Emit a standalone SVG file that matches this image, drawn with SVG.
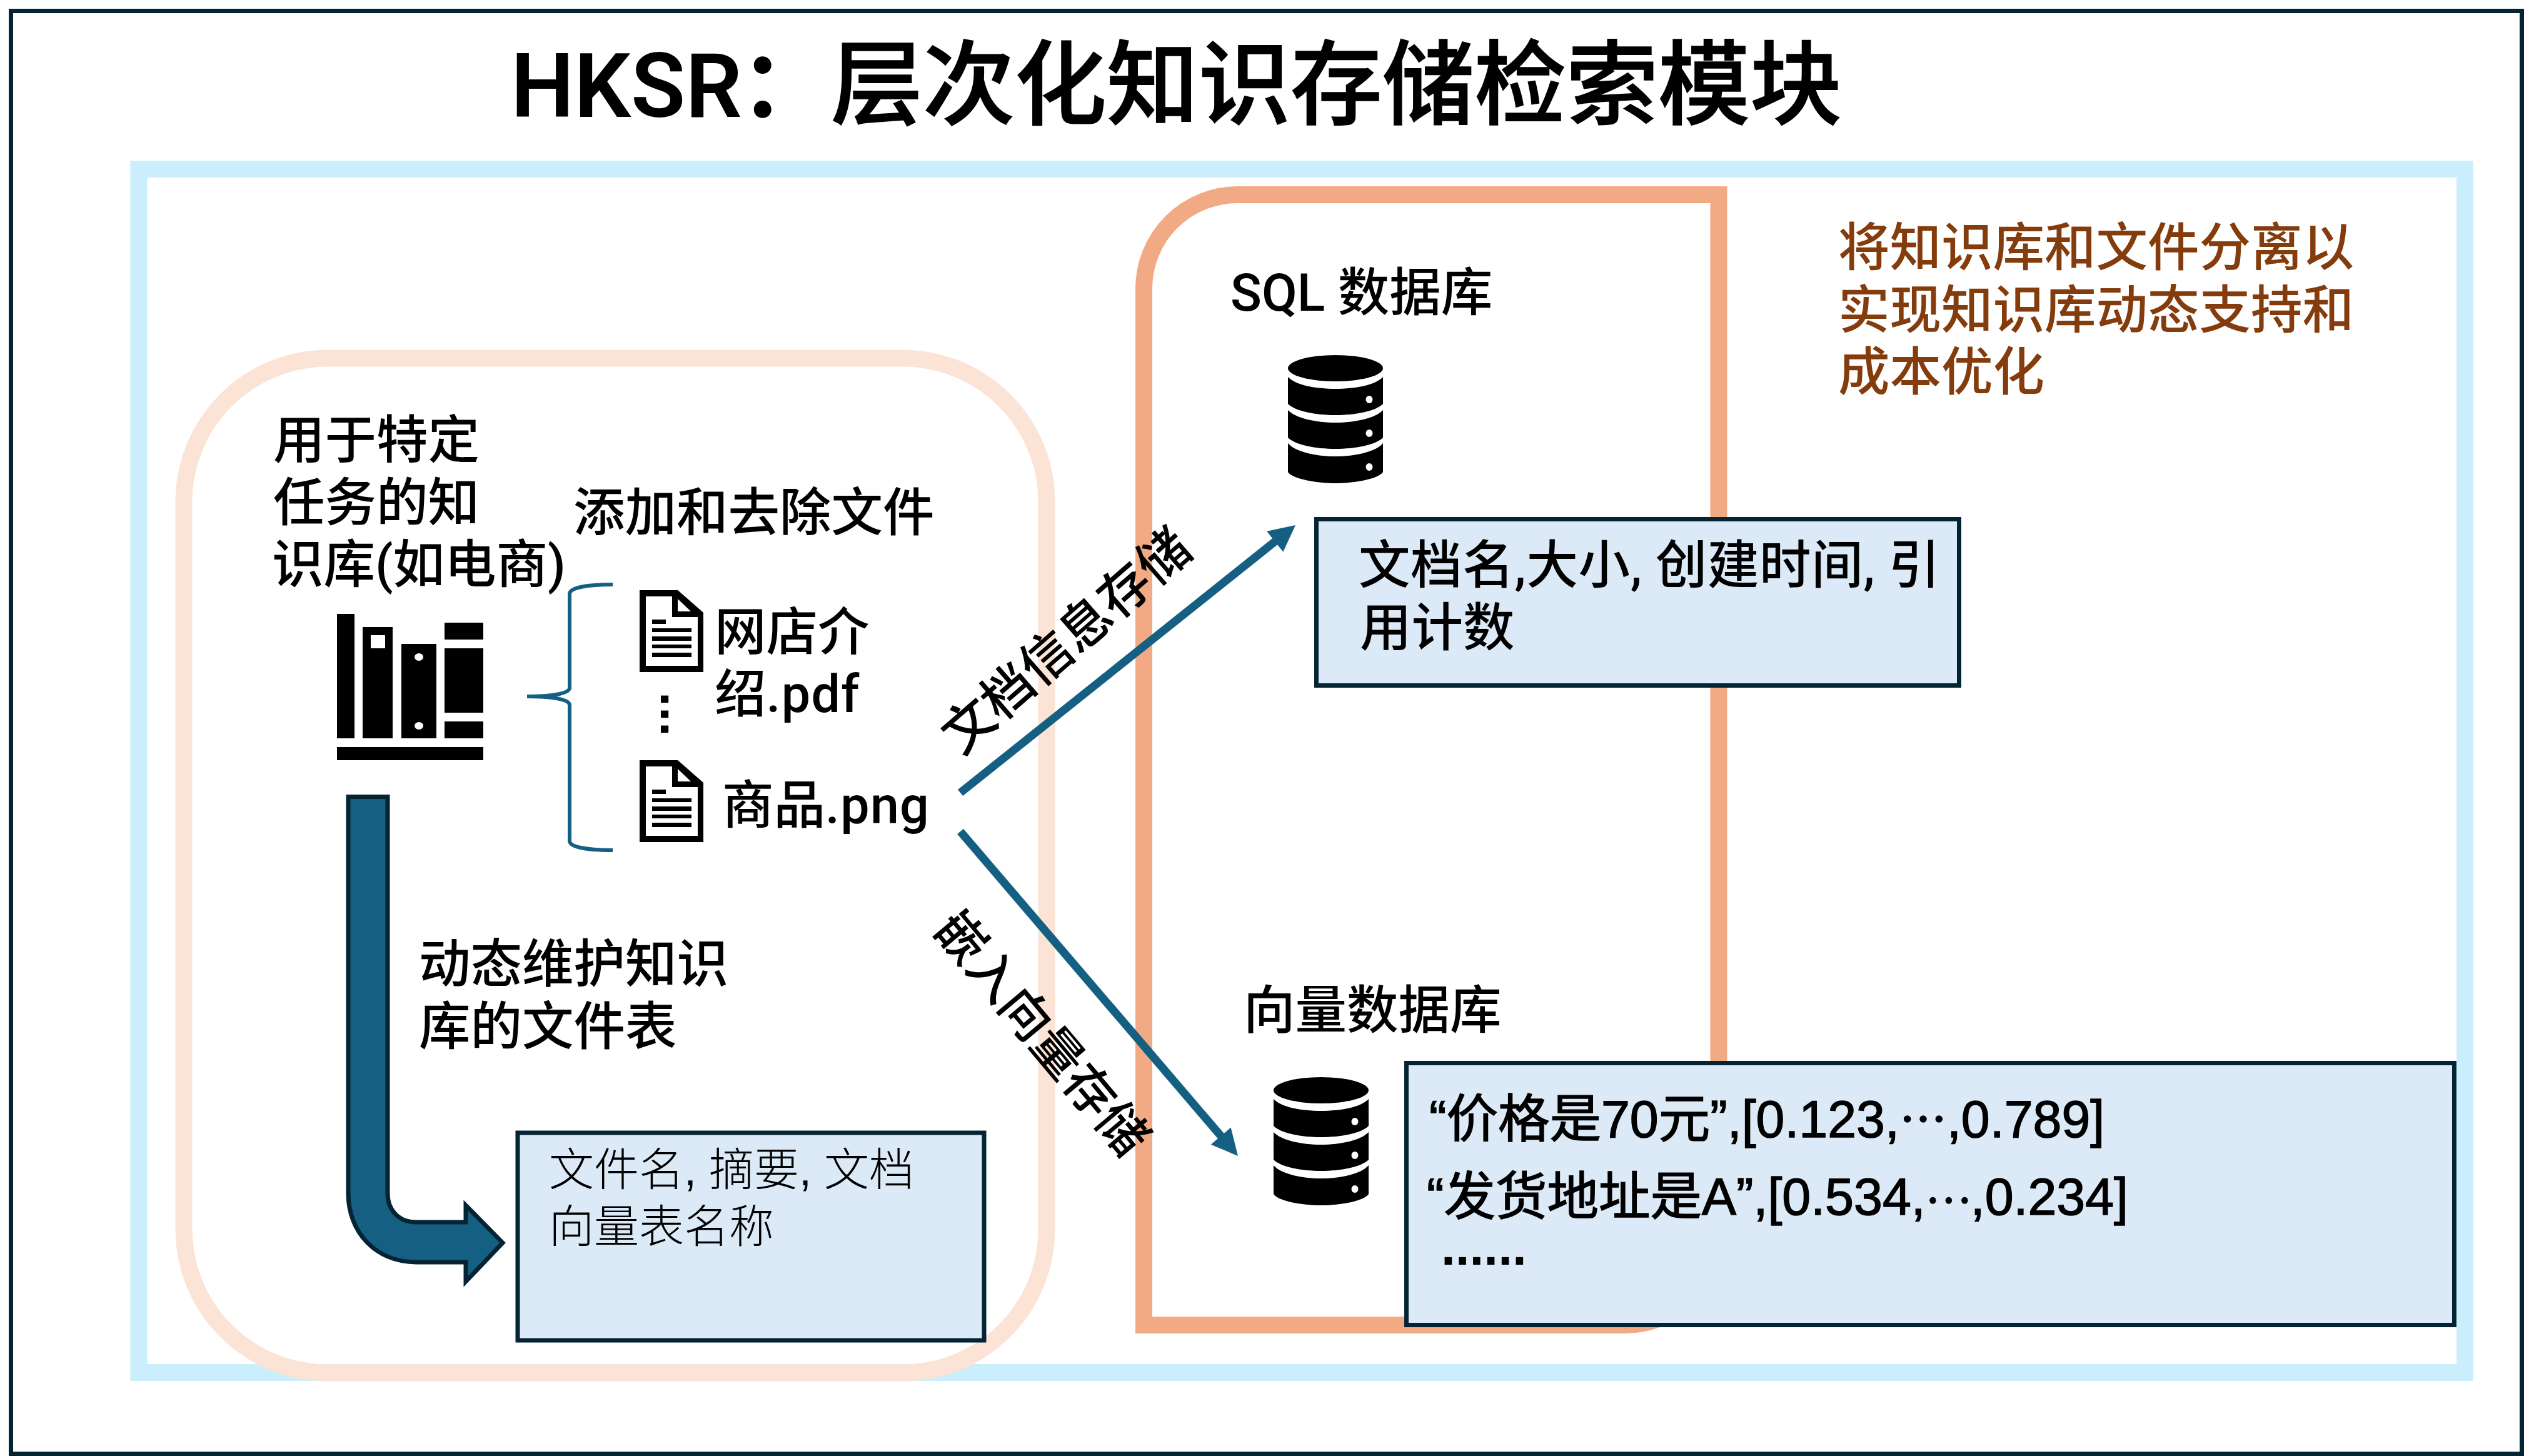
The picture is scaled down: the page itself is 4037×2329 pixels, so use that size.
<svg xmlns="http://www.w3.org/2000/svg" width="4037" height="2329" viewBox="0 0 4037 2329">
<style>
text{font-family:"Roboto","Noto Sans CJK SC",sans-serif;font-size:82.500px;font-weight:500;fill:#000}
.box{fill:#DCEAF7;stroke:#042433;stroke-width:7}
.conn{fill:none;stroke:#156082;stroke-width:13}
.tb{font-family:"Liberation Sans","Noto Sans CJK SC",sans-serif;font-weight:400;stroke:#000;stroke-width:1.500px}
.dots{font-family:"Liberation Sans",sans-serif;font-weight:700}
.mid{font-family:"Noto Sans CJK SC",sans-serif;font-size:76px}
.lt{font-family:"Liberation Sans","Noto Sans CJK SC",sans-serif;font-size:72px;font-weight:300}
.sp{letter-spacing:1.300px}
.note{fill:#843C0C}
</style>
<defs>
<marker id="ah" markerUnits="userSpaceOnUse" markerWidth="60" markerHeight="60" viewBox="-5 -30 60 60" refX="2" refY="0" orient="auto"><path d="M42,0 L0,-21 L0,21 Z" fill="#156082"/></marker>
<g id="doc">
<path d="M1023,944 H1084 L1125,980 V1075 H1023 Z M1033,954 V1065 H1116 V987 H1075 V954 Z" fill="#000" fill-rule="evenodd"/>
<path d="M1084,958 L1105,978 H1084 Z" fill="#fff"/>
<path d="M1043,991 h22 v7 h-22 Z M1043,1005 h63 v6 h-63 Z M1043,1018 h63 v7 h-63 Z M1043,1031 h63 v6 h-63 Z M1043,1044 h63 v7 h-63 Z" fill="#000"/>
</g>
<g id="db">
<ellipse cx="2136" cy="589" rx="76" ry="21" fill="#000"/>
<path d="M2060,603 C2072,616 2105,622 2136,622 C2167,622 2200,616 2212,603 V646 C2200,658 2167,664 2136,664 C2105,664 2072,658 2060,646 Z" fill="#000"/>
<path d="M2060,656 C2072,669 2105,676 2136,676 C2167,676 2200,669 2212,656 V700 C2200,712 2167,718 2136,718 C2105,718 2072,712 2060,700 Z" fill="#000"/>
<path d="M2060,709 C2072,723 2105,730 2136,730 C2167,730 2200,723 2212,709 V755 C2205,766 2167,773 2136,773 C2105,773 2067,766 2060,755 Z" fill="#000"/>
<ellipse cx="2190" cy="639" rx="5.500" ry="6" fill="#fff"/>
<ellipse cx="2190" cy="693" rx="5.500" ry="6" fill="#fff"/>
<ellipse cx="2190" cy="747" rx="5.500" ry="6" fill="#fff"/>
</g>
</defs>
<rect width="4037" height="2329" fill="#fff"/>
<rect id="outer-border" x="17.500" y="17.500" width="4016" height="2308" fill="none" stroke="#042433" stroke-width="7"/>
<text id="title" y="187" style="font-size:147px;stroke:#000;stroke-width:1.500px"><tspan x="817" style="font-size:143px;font-weight:600;stroke:none">HKSR</tspan><tspan x="1183" style="font-weight:700;stroke:none">：</tspan><tspan x="1329">层次化知识存储检索模块</tspan></text>
<rect id="module-frame" x="222" y="270.500" width="3720.500" height="1925" fill="none" stroke="#CAEEFB" stroke-width="27"/>
<g id="kb-container"><rect x="294" y="573" width="1380" height="1623" rx="230" ry="230" fill="none" stroke="#FBE3D6" stroke-width="27"/></g>
<g id="db-container"><path d="M1829.500,2119.500 V461 A150,150 0 0 1 1979.500,311.500 H2749 V1969.500 A150,150 0 0 1 2599,2119.500 Z" fill="none" stroke="#F2AA84" stroke-width="27"/></g>
<g id="note"><text class="note" x="2940" y="425">将知识库和文件分离以</text><text class="note" x="2940" y="525">实现知识库动态支持和</text><text class="note" x="2940" y="624">成本优化</text></g>
<g id="kb-label"><text x="437" y="733">用于特定</text><text x="437" y="833">任务的知</text><text x="435" y="932">识库(如电商)</text></g>
<g id="kb-icon" fill="#000">
<rect x="539" y="982" width="28" height="199"/>
<path d="M580,1003 H628 V1181 H580 Z M593,1016 V1037 H616 V1016 Z" fill-rule="evenodd"/>
<rect x="642" y="1030" width="56" height="151"/>
<ellipse cx="670" cy="1051" rx="7" ry="6" fill="#fff"/>
<ellipse cx="670" cy="1161" rx="7" ry="6" fill="#fff"/>
<rect x="711" y="996" width="62" height="27"/>
<rect x="711" y="1037" width="62" height="103"/>
<rect x="711" y="1154" width="62" height="27"/>
<rect x="539" y="1195" width="234" height="21"/>
</g>
<g id="add-label"><text x="917" y="849">添加和去除文件</text></g>
<g id="files">
<use href="#doc"/>
<text x="1143" y="1040">网店介</text><text x="1143" y="1139">绍<tspan class="sp">.pdf</tspan></text>
<text class="dots" transform="translate(1057,1107) rotate(90)" style="letter-spacing:1.200px;font-size:82px">...</text>
<use href="#doc" y="272"/>
<text x="1155" y="1317">商品<tspan class="sp">.png</tspan></text>
</g>
<g id="connectors">
<path d="M980,935 C940,935 911,940 911,950 V1100 C911,1110 880,1114 843,1114 C880,1114 911,1118 911,1128 V1345 C911,1355 940,1360 980,1360" fill="none" stroke="#156082" stroke-width="6"/>
<line class="conn" x1="1536" y1="1268" x2="2040.800" y2="865" marker-end="url(#ah)"/>
<line class="conn" x1="1536" y1="1330" x2="1954" y2="1818.600" marker-end="url(#ah)"/>
<path id="bent-arrow" d="M557,1274.500 H620 V1909 C620,1934 636,1955 666,1955 H745 V1928 L804,1988 L745,2050 V2019 H666 C600,2019 557,1970 557,1909 Z" fill="#156082" stroke="#042433" stroke-width="7"/>
</g>
<text id="edge-label-sql" transform="translate(1706,1026) rotate(-41)" text-anchor="middle" y="28">文档信息存储</text>
<text id="edge-label-vec" transform="translate(1666,1653) rotate(50)" text-anchor="middle" y="28" style="font-size:80px">嵌入向量存储</text>
<g id="maintain-label"><text x="670" y="1571">动态维护知识</text><text x="670" y="1671">库的文件表</text></g>
<g id="file-table"><rect class="box" x="828" y="1812" width="746" height="332"/>
<text class="lt" x="878" y="1896">文件名, 摘要, 文档</text><text class="lt" x="878" y="1987">向量表名称</text></g>
<g id="sql-db"><text x="1968" y="497">SQL 数据库</text><use href="#db"/></g>
<g id="sql-table"><rect class="box" x="2105.500" y="830.500" width="1028" height="266"/>
<text x="2173" y="933" textLength="930">文档名,大小, 创建时间, 引</text><text x="2175" y="1033">用计数</text></g>
<g id="vec-db"><text x="1989" y="1645">向量数据库</text><use href="#db" x="-23" y="1155"/></g>
<g id="vec-table"><rect class="box" x="2249.500" y="1700.500" width="1676" height="419"/>
<text class="tb" x="2286" y="1819">“价格是70元”,[0.123,<tspan class="mid">&#x22EF;</tspan>,0.789]</text>
<text class="tb" x="2282" y="1943">“发货地址是A”,[0.534,<tspan class="mid" dy="-19" style="font-size:68px">&#x22EF;</tspan><tspan dy="19">,0.234]</tspan></text>
<text class="dots" x="2305" y="2023" style="font-size:82px">......</text></g>
</svg>
